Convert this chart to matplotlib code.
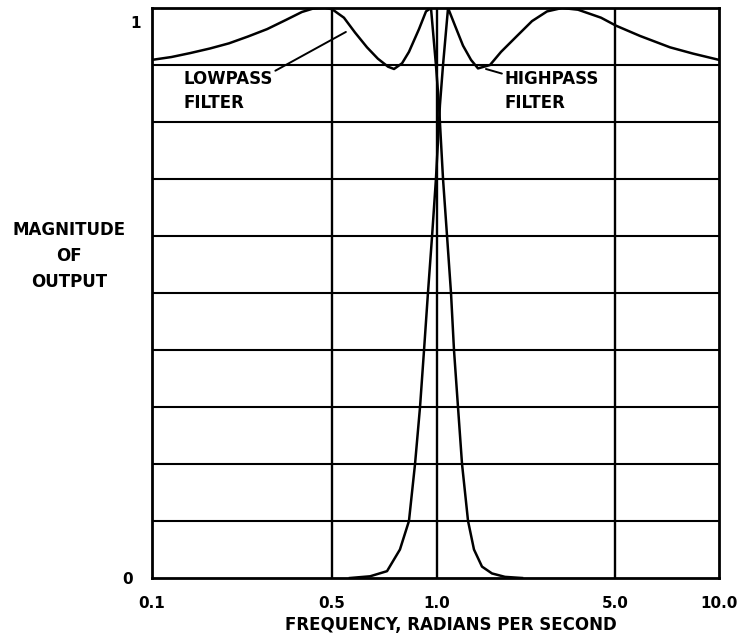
import numpy as np
import matplotlib
matplotlib.use('Agg')
import matplotlib.pyplot as plt
from matplotlib.transforms import ScaledTranslation

plt.rcParams['font.family'] = ['DejaVu Sans']
plt.rcParams['font.weight'] = 'bold'

# curves (frequency in rad/s, magnitude 0..1)
lowpass_freq = [0.1, 0.119, 0.141, 0.168, 0.199, 0.236, 0.280, 0.331, 0.382, 0.422,
                0.470, 0.50, 0.541, 0.582, 0.630, 0.677, 0.724, 0.753, 0.794, 0.831,
                0.888, 0.930, 0.961, 0.993, 1.018, 1.056, 1.095, 1.135, 1.166, 1.209,
                1.254, 1.324, 1.397, 1.502, 1.644, 1.849, 2.157]
lowpass_mag = [0.909, 0.914, 0.921, 0.929, 0.938, 0.950, 0.963, 0.979, 0.993, 0.999,
               1.0, 0.998, 0.983, 0.957, 0.931, 0.911, 0.897, 0.893, 0.903, 0.923,
               0.963, 0.994, 1.0, 0.9, 0.83, 0.7, 0.6, 0.5, 0.4, 0.3,
               0.2, 0.1, 0.05, 0.02, 0.008, 0.002, 0.0]

highpass_freq = [0.563, 0.643, 0.719, 0.783, 0.831, 0.865, 0.894, 0.918, 0.942, 0.968,
                 0.993, 1.027, 1.056, 1.105, 1.177, 1.265, 1.360, 1.449, 1.615, 1.784,
                 2.062, 2.361, 2.704, 3.097, 3.579, 4.406, 5.034, 5.906, 7.215, 8.41, 10.0]
highpass_mag = [0.0, 0.003, 0.012, 0.05, 0.1, 0.2, 0.3, 0.4, 0.5, 0.6,
                0.7, 0.83, 0.9, 1.0, 0.969, 0.934, 0.909, 0.894, 0.9, 0.923,
                0.951, 0.977, 0.994, 1.0, 0.997, 0.983, 0.969, 0.951, 0.931, 0.92, 0.909]

xticks = [0.1, 0.5, 1.0, 5.0, 10.0]
xtick_labels = ['0.1', '0.5', '1.0', '5.0', '10.0']
xgrid = [0.5, 1.0, 5.0]
ygrid = [0.1, 0.2, 0.3, 0.4, 0.5, 0.6, 0.7, 0.8, 0.9]

# the printed axis is log-like but not exactly; these are where the labelled
# frequencies sit along the axis (fraction of width)
axis_pos = np.array([0, 180, 285, 463, 567]) / 567.0
axis_log = np.log10(xticks)

def fwd(x):
    x = np.clip(np.asarray(x, dtype=float), 1e-6, None)
    return np.interp(np.log10(x), axis_log, axis_pos)

def inv(p):
    return 10 ** np.interp(p, axis_pos, axis_log)

fig = plt.figure(figsize=(7.42, 6.34), dpi=100)
ax = fig.add_axes([152/742, 1 - 578/634, 567/742, 570/634])
ax.set_xscale('function', functions=(fwd, inv))
ax.set_xlim(0.1, 10)
ax.set_ylim(0, 1)

for y in ygrid:
    ax.axhline(y, color='black', lw=1.5)
for x in xgrid:
    ax.axvline(x, color='black', lw=1.7)

ax.plot(lowpass_freq, lowpass_mag, color='black', lw=1.8)
ax.plot(highpass_freq, highpass_mag, color='black', lw=1.8)

for s in ax.spines.values():
    s.set_linewidth(2)

ax.set_xticks(xticks)
ax.set_xticklabels(xtick_labels)
ax.minorticks_off()
ax.set_yticks([0, 1])
ax.set_yticklabels(['0', '1'])
ax.tick_params(axis='x', length=0, pad=13, labelsize=11)
ax.tick_params(axis='y', length=0, pad=14, labelsize=11)
# the "1" sits a little lower and closer to the frame
lab1 = ax.get_yticklabels()[1]
lab1.set_transform(lab1.get_transform() + ScaledTranslation(8/100, -14/100, fig.dpi_scale_trans))

ax.set_xlabel('FREQUENCY, RADIANS PER SECOND', fontsize=12, fontweight='bold')
ax.xaxis.set_label_coords(0.527, -0.066)

fig.text(69/742, 1 - 256/634, 'MAGNITUDE\nOF\nOUTPUT', ha='center', va='center',
         fontsize=12, fontweight='bold', linespacing=1.6)

ax.annotate('LOWPASS\nFILTER', xy=(0.548, 0.958), xycoords='data',
            xytext=(0.055, 0.891), textcoords='axes fraction',
            ha='left', va='top', fontsize=12, fontweight='bold', linespacing=1.45,
            arrowprops=dict(arrowstyle='-', color='black', lw=1.4,
                            shrinkA=0, shrinkB=0, relpos=(1.0, 0.95)))
ax.annotate('HIGHPASS\nFILTER', xy=(1.557, 0.893), xycoords='data',
            xytext=(0.622, 0.891), textcoords='axes fraction',
            ha='left', va='top', fontsize=12, fontweight='bold', linespacing=1.45,
            arrowprops=dict(arrowstyle='-', color='black', lw=1.4,
                            shrinkA=0, shrinkB=0, relpos=(0.0, 0.9)))

fig.savefig('out.png', dpi=100)
